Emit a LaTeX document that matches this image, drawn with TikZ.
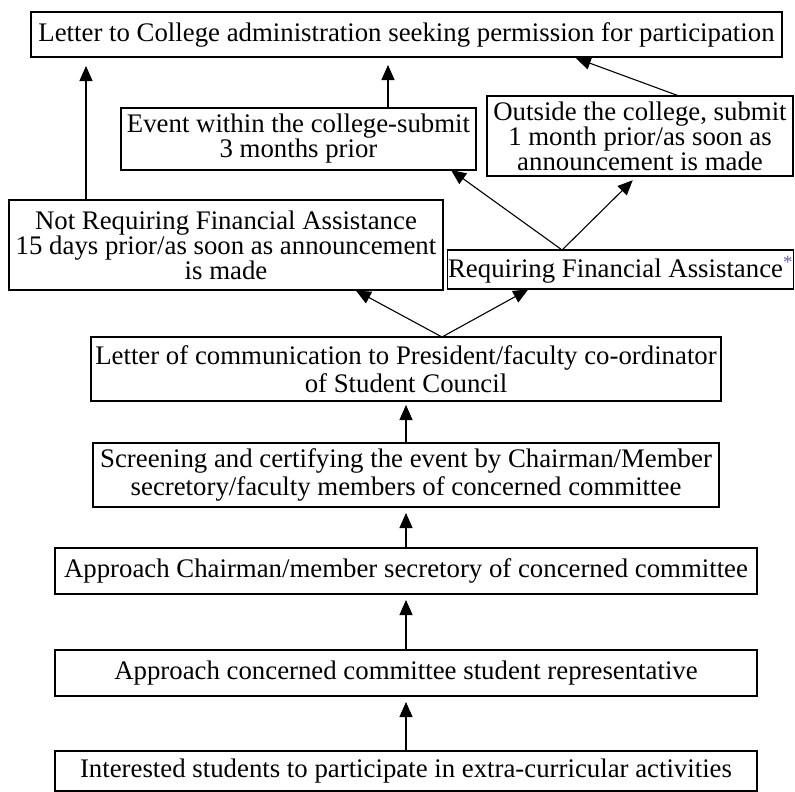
\documentclass[tikz,border=0pt]{standalone}
\usepackage{fontspec}
\setmainfont{Liberation Serif}
\usetikzlibrary{arrows.meta}
\definecolor{starblue}{RGB}{95,95,190}

\begin{document}
\begin{tikzpicture}[x=1pt,y=-1pt,
    every node/.style={inner sep=1pt,outer sep=0,font=\fontsize{26.8}{25}\selectfont},
    box/.style={draw,line width=1.1pt,align=center},
    arr/.style={line width=1.1pt,-{Triangle[length=15pt,width=13pt]},shorten >=6pt}]
      \useasboundingbox (0,0) rectangle (795,792);

      \node(top)[box,minimum width=751pt,minimum height=45pt] at (406.5,34.5)
        {Letter to College administration seeking permission for participation};
      \node(event)[box,minimum width=355pt,minimum height=62pt] at (298.5,139)
        {Event within the college-submit\\3 months prior};
      \node(outside)[box,minimum width=306pt,minimum height=80pt] at (640,136)
        {Outside the college, submit\\1 month prior/as soon as\\announcement is made};
      \node(notreq)[box,minimum width=434pt,minimum height=90pt] at (226,245)
        {Not Requiring Financial Assistance\\15 days prior/as soon as announcement\\is made};
      \node(req)[box,minimum width=345pt,minimum height=39pt] at (620.5,269.5)
        {Requiring Financial Assistance\textsuperscript{\textcolor{starblue}{*}}};
      \node(comm)[box,minimum width=630pt,minimum height=64pt,font=\fontsize{26.8}{27.5}\selectfont] at (406,369)
        {Letter of communication to President/faculty co-ordinator\\of Student Council};
      \node(screen)[box,minimum width=626pt,minimum height=64pt,font=\fontsize{26.8}{27.5}\selectfont] at (406,475)
        {Screening and certifying the event by Chairman/Member\\secretory/faculty members of concerned committee};
      \node(chair)[box,minimum width=702pt,minimum height=46pt] at (406,571)
        {Approach Chairman/member secretory of concerned committee};
      \node(concern)[box,minimum width=702pt,minimum height=46pt] at (406,673)
        {Approach concerned committee student representative};
      \node(interest)[box,minimum width=702pt,minimum height=40pt] at (406,771)
        {Interested students to participate in extra-curricular activities};

      \draw[arr](interest.north)--(concern.south);
      \draw[arr](concern.north)--(chair.south);
      \draw[arr](chair.north)--(screen.south);
      \draw[arr,shorten >=4pt](screen.north)--(comm.south);

      \draw[arr,shorten >=1pt]([xshift=351pt]comm.north west)--([xshift=346pt]notreq.south west);
      \draw[arr,shorten >=1pt]([xshift=351pt]comm.north west)--([xshift=82pt]req.south west);

      \draw[arr,shorten >=0pt]([xshift=115pt]req.north west)--([xshift=330pt]event.south west);
      \draw[arr]([xshift=115pt]req.north west)--([xshift=150pt]outside.south west);

      \draw[arr,shorten >=9pt]([xshift=77pt]notreq.north west)--([xshift=55pt]top.south west);
      \draw[arr,shorten >=8pt]([xshift=267pt]event.north west)--([xshift=357pt]top.south west);
      \draw[arr,shorten >=3pt]([xshift=192pt]outside.north west)--([xshift=542pt]top.south west);
    \end{tikzpicture}
\end{document}
